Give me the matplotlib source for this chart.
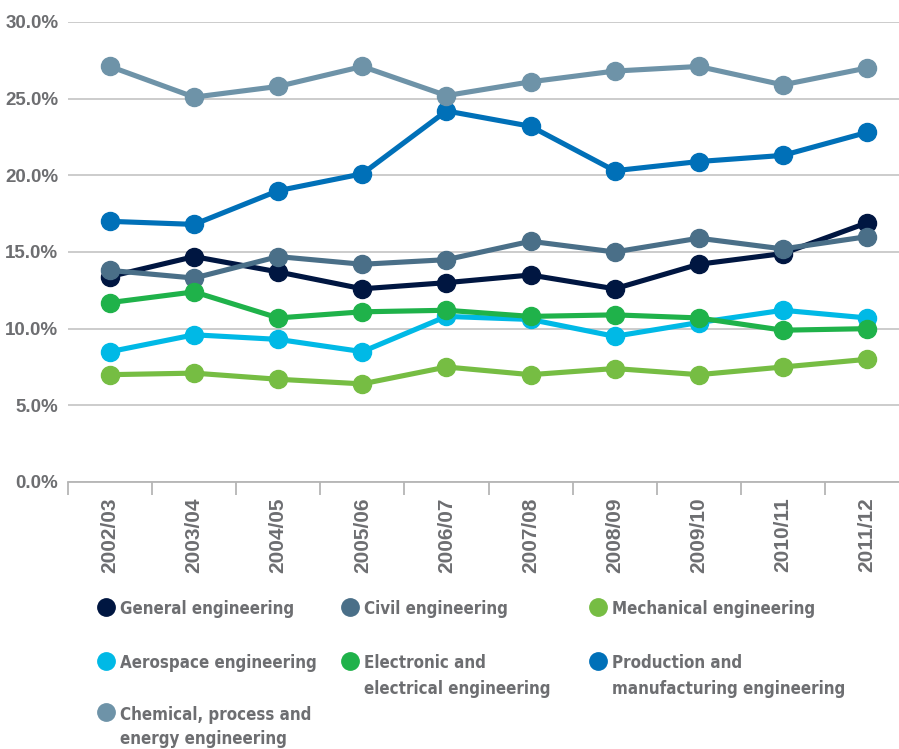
import matplotlib
matplotlib.use("Agg")
import matplotlib.pyplot as plt
from matplotlib import font_manager
from matplotlib.lines import Line2D
from matplotlib.ticker import FuncFormatter, FixedLocator
import numpy as np

years = ["2002/03", "2003/04", "2004/05", "2005/06", "2006/07",
         "2007/08", "2008/09", "2009/10", "2010/11", "2011/12"]

general = [13.4, 14.7, 13.7, 12.6, 13.0, 13.5, 12.6, 14.2, 14.9, 16.9]
civil = [13.8, 13.3, 14.7, 14.2, 14.5, 15.7, 15.0, 15.9, 15.2, 16.0]
mechanical = [7.0, 7.1, 6.7, 6.4, 7.5, 7.0, 7.4, 7.0, 7.5, 8.0]
aerospace = [8.5, 9.6, 9.3, 8.5, 10.8, 10.6, 9.5, 10.4, 11.2, 10.7]
electronic = [11.7, 12.4, 10.7, 11.1, 11.2, 10.8, 10.9, 10.7, 9.9, 10.0]
production = [17.0, 16.8, 19.0, 20.1, 24.2, 23.2, 20.3, 20.9, 21.3, 22.8]
chemical = [27.1, 25.1, 25.8, 27.1, 25.2, 26.1, 26.8, 27.1, 25.9, 27.0]

labels = ["General engineering", "Civil engineering", "Mechanical engineering",
          "Aerospace engineering", "Electronic and\nelectrical engineering",
          "Production and\nmanufacturing engineering",
          "Chemical, process and\nenergy engineering"]
colors = ["#001641", "#4a6f88", "#76bd43", "#00b9e6", "#1fb24a", "#0070b8", "#6e93a8"]
series = [general, civil, mechanical, aerospace, electronic, production, chemical]

TXT = "#6d6e71"
W, H = 899, 749

# condensed bold if the system has it, else plain bold at a smaller size
has_cond = any(f.name == "DejaVu Sans" and f.stretch == "condensed"
               for f in font_manager.fontManager.ttflist)
if has_cond:
    leg_font = dict(family="DejaVu Sans", fontstretch="condensed", fontsize=12.2)
else:
    leg_font = dict(family="Liberation Sans", fontsize=12.5)

fig = plt.figure(figsize=(W / 100, H / 100), dpi=100)
ax = fig.add_axes([68 / W, (H - 482) / H, 841 / W, 460 / H])

x = np.arange(len(years))
for vals, c in zip(series, colors):
    ax.plot(x, vals, color=c, lw=3.7, marker="o", ms=13, mec=c, solid_capstyle="round")

ax.set_xlim(-0.5, 9.5)
ax.set_ylim(0, 30)
ax.set_yticks(np.arange(0, 31, 5))
ax.yaxis.set_major_formatter(FuncFormatter(lambda v, p: f"{v:.1f}%"))
ax.grid(axis="y", color="#c8c8c8", lw=1.3)
ax.set_axisbelow(True)
for s in ["top", "right", "left"]:
    ax.spines[s].set_visible(False)
ax.spines["bottom"].set_color("#b5b5b5")
ax.spines["bottom"].set_linewidth(1.3)

ax.set_xticks(x)
ax.set_xticklabels(years, rotation=90, fontsize=15, fontweight="bold",
                   color=TXT, family="Liberation Sans")
ax.xaxis.set_minor_locator(FixedLocator(np.arange(-0.5, 10, 1)))
ax.tick_params(axis="x", which="major", length=0, pad=11)
ax.tick_params(axis="x", which="minor", length=9.5, width=1.3, color="#b5b5b5")
ax.tick_params(axis="y", length=0, pad=7, labelsize=13.5, labelcolor=TXT)
for t in ax.get_yticklabels():
    t.set_fontweight("bold")
    t.set_family("Liberation Sans")

# legend, laid out by hand in three columns
col_x = [106, 350, 598]
row_y = [607, 661, 712]
for i, (lab, c) in enumerate(zip(labels, colors)):
    cx = col_x[i % 3]
    cy = row_y[i // 3]
    fig.add_artist(Line2D([cx / W], [1 - cy / H], marker="o", ms=12.5, color=c,
                          mec=c, transform=fig.transFigure, ls="none"))
    for k, line in enumerate(lab.split("\n")):
        fig.text((cx + 14) / W, 1 - (cy + 7.5 + 25 * k) / H, line, fontweight="bold",
                 color=TXT, va="baseline", ha="left", **leg_font)

fig.savefig("out.png", dpi=100)
